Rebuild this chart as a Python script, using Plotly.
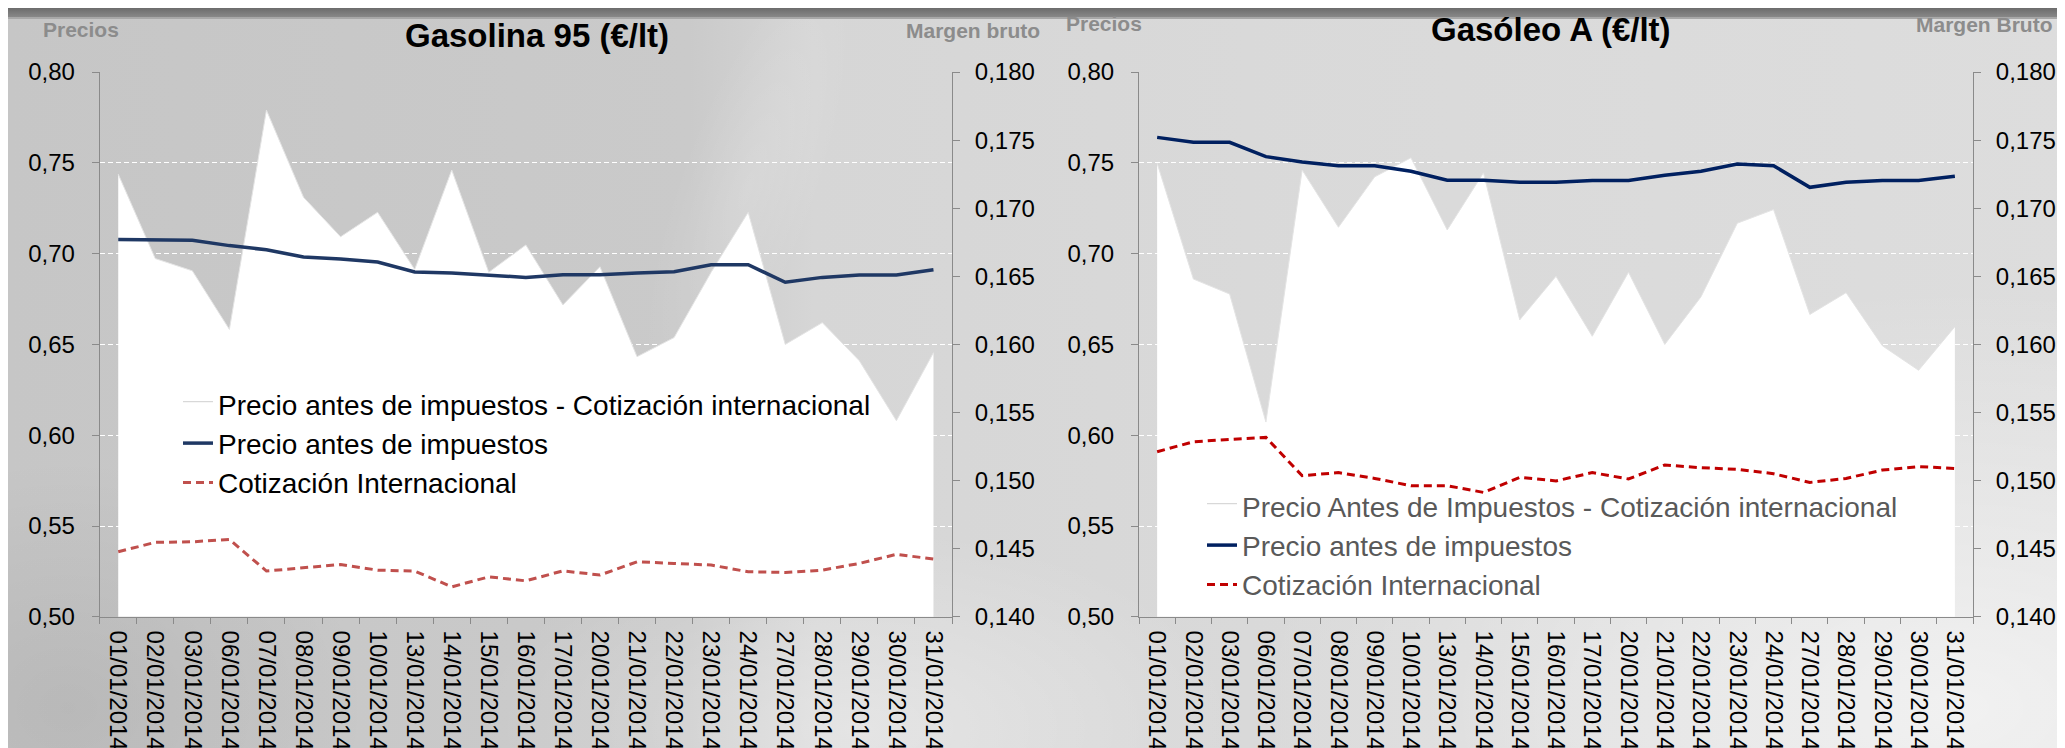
import base64
import plotly.graph_objects as go

# ---------------- data ----------------
fechas = ["01/01/2014", "02/01/2014", "03/01/2014", "06/01/2014", "07/01/2014",
          "08/01/2014", "09/01/2014", "10/01/2014", "13/01/2014", "14/01/2014",
          "15/01/2014", "16/01/2014", "17/01/2014", "20/01/2014", "21/01/2014",
          "22/01/2014", "23/01/2014", "24/01/2014", "27/01/2014", "28/01/2014",
          "29/01/2014", "30/01/2014", "31/01/2014"]

# Gasolina 95
g95_precio = [0.7077, 0.7073, 0.7073, 0.7044, 0.7021, 0.6981, 0.6970, 0.6954, 0.6899,
              0.6893, 0.6880, 0.6869, 0.6884, 0.6884, 0.6893, 0.6900, 0.6939, 0.6939,
              0.6842, 0.6869, 0.6882, 0.6882, 0.6911]
g95_cotiz = [0.5358, 0.5410, 0.5413, 0.5426, 0.5252, 0.5272, 0.5288, 0.5257, 0.5252,
             0.5165, 0.5220, 0.5198, 0.5253, 0.5230, 0.5303, 0.5294, 0.5285, 0.5248,
             0.5244, 0.5257, 0.5294, 0.5344, 0.5318]
g95_margen = [0.1725, 0.1663, 0.1654, 0.1611, 0.1772, 0.1708, 0.1679, 0.1697, 0.1655,
              0.1728, 0.1653, 0.1673, 0.1629, 0.1657, 0.1591, 0.1605, 0.1653, 0.1697,
              0.1600, 0.1616, 0.1588, 0.1544, 0.1594]

# Gasóleo A
gA_precio = [0.7640, 0.7613, 0.7613, 0.7534, 0.7504, 0.7484, 0.7484, 0.7453, 0.7404,
             0.7404, 0.7393, 0.7393, 0.7402, 0.7402, 0.7431, 0.7453, 0.7493, 0.7484,
             0.7365, 0.7393, 0.7402, 0.7402, 0.7426]
gA_cotiz = [0.5909, 0.5964, 0.5977, 0.5988, 0.5777, 0.5794, 0.5762, 0.5722, 0.5722,
            0.5685, 0.5768, 0.5748, 0.5794, 0.5759, 0.5836, 0.5821, 0.5812, 0.5788,
            0.5740, 0.5762, 0.5808, 0.5827, 0.5817]
gA_margen = [0.1733, 0.1648, 0.1637, 0.1543, 0.1728, 0.1686, 0.1723, 0.1737, 0.1684,
             0.1726, 0.1618, 0.1650, 0.1606, 0.1653, 0.1600, 0.1635, 0.1689, 0.1699,
             0.1622, 0.1638, 0.1599, 0.1581, 0.1613]

# ---------------- layout helpers ----------------
W, H = 2065, 748
FONT = "Liberation Sans, Arial, sans-serif"


def px(x):
    return x / W


def py(y):
    return 1 - y / H


# background gradient (SVG image)
svg = f'''<svg xmlns="http://www.w3.org/2000/svg" width="{W}" height="{H}" viewBox="0 0 {W} {H}" preserveAspectRatio="none">
<defs>
<linearGradient id="g" x1="0" y1="0" x2="1" y2="0">
<stop offset="0" stop-color="#c6c6c6"/>
<stop offset="0.33" stop-color="#cacaca"/>
<stop offset="0.39" stop-color="#d6d6d6"/>
<stop offset="0.6" stop-color="#d9d9d9"/>
<stop offset="1" stop-color="#dddddd"/>
</linearGradient>
<linearGradient id="t" x1="0" y1="0" x2="0" y2="1">
<stop offset="0" stop-color="#6c6c6c"/>
<stop offset="1" stop-color="#888888"/>
</linearGradient>
<radialGradient id="h" cx="0.5" cy="0.5" r="0.5">
<stop offset="0" stop-color="#ffffff" stop-opacity="0.6"/>
<stop offset="1" stop-color="#ffffff" stop-opacity="0"/>
</radialGradient>
<radialGradient id="h2" cx="0.5" cy="0.5" r="0.5">
<stop offset="0" stop-color="#ffffff" stop-opacity="0.35"/>
<stop offset="1" stop-color="#ffffff" stop-opacity="0"/>
</radialGradient>
<radialGradient id="h3" cx="0.5" cy="0.5" r="0.5">
<stop offset="0" stop-color="#ffffff" stop-opacity="0.15"/>
<stop offset="1" stop-color="#ffffff" stop-opacity="0"/>
</radialGradient>
<radialGradient id="d" cx="0.5" cy="0.5" r="0.5">
<stop offset="0" stop-color="#000000" stop-opacity="0.07"/>
<stop offset="1" stop-color="#000000" stop-opacity="0"/>
</radialGradient>
</defs>
<rect width="{W}" height="{H}" fill="url(#g)"/>
<ellipse cx="60" cy="700" rx="300" ry="250" fill="url(#d)"/>
<ellipse cx="1950" cy="700" rx="700" ry="420" fill="url(#h)"/>
<ellipse cx="850" cy="720" rx="380" ry="200" fill="url(#h2)"/>
<ellipse cx="740" cy="180" rx="70" ry="240" fill="url(#h3)" transform="rotate(20 740 180)"/>
<rect width="{W}" height="9" fill="url(#t)"/>
<rect y="9" width="{W}" height="2" fill="#a8a8a8"/>
</svg>'''
bg_src = "data:image/svg+xml;base64," + base64.b64encode(svg.encode("utf-8")).decode("ascii")

AXIS_COL = "#8a8a8a"
TOP, BOT = 64, 608.8

fig = go.Figure()


def add_panel(xa, ym, yp, precio, cotiz, margen, names, navy, red, legend):
    # margin area (white)
    fig.add_trace(go.Scatter(
        x=fechas, y=margen, xaxis=xa, yaxis=ym, mode="lines", fill="tozeroy",
        fillcolor="white", line=dict(color="#e4e4e4", width=1),
        name=names[0], showlegend=False, hoverinfo="skip"))
    # legend entry for the area (boxed white swatch)
    fig.add_trace(go.Scatter(
        x=[None], y=[None], xaxis=xa, yaxis=ym, mode="lines", fill="toself",
        fillcolor="white", line=dict(color="#cfcfcf", width=1),
        name=names[0], legend=legend, legendgroup=legend + "a"))
    fig.add_trace(go.Scatter(
        x=fechas, y=precio, xaxis=xa, yaxis=yp, mode="lines",
        line=dict(color=navy, width=3.5), name=names[1], legend=legend,
        legendgroup=legend + "b"))
    fig.add_trace(go.Scatter(
        x=fechas, y=cotiz, xaxis=xa, yaxis=yp, mode="lines",
        line=dict(color=red, width=3, dash="8px,5px"), name=names[2], legend=legend,
        legendgroup=legend + "c"))


add_panel("x", "y", "y2", g95_precio, g95_cotiz, g95_margen,
          ["Precio antes de impuestos - Cotización internacional",
           "Precio antes de impuestos", "Cotización Internacional"],
          "#1f3864", "#c0504d", "legend")
add_panel("x2", "y3", "y4", gA_precio, gA_cotiz, gA_margen,
          ["Precio Antes de Impuestos - Cotización internacional",
           "Precio antes de impuestos", "Cotización Internacional"],
          "#002060", "#c00000", "legend2")

xcommon = dict(type="category", tickson="boundaries", ticks="outside", ticklen=6,
               tickcolor=AXIS_COL, showline=True, linecolor=AXIS_COL, linewidth=1,
               tickangle=90, tickfont=dict(size=24, color="black", family=FONT),
               showgrid=False, zeroline=False, range=[-0.5, 22.5], automargin=False,
               ticklabelstandoff=8, fixedrange=True)
ymargin = dict(side="right", range=[0.14, 0.18], dtick=0.005, tick0=0.14,
               tickformat=".3f", showgrid=False, zeroline=False, showline=True,
               linecolor=AXIS_COL, ticks="outside", ticklen=7, tickcolor=AXIS_COL,
               tickfont=dict(size=24, color="black", family=FONT), automargin=False,
               ticklabelstandoff=10)
yprecio = dict(side="left", range=[0.5, 0.8], dtick=0.05, tick0=0.5,
               tickformat=".2f", showgrid=True, gridcolor="white", gridwidth=1,
               griddash="5px,3px", zeroline=False, showline=True, linecolor=AXIS_COL,
               ticks="outside", ticklen=7, tickcolor=AXIS_COL,
               tickfont=dict(size=24, color="black", family=FONT), automargin=False,
               ticklabelstandoff=12)

fig.update_layout(
    width=W, height=H,
    margin=dict(l=0, r=0, t=0, b=0, autoexpand=False),
    paper_bgcolor="#cfcfcf", plot_bgcolor="rgba(0,0,0,0)",
    separators=",.",
    showlegend=True,
    font=dict(family=FONT),
    xaxis=dict(domain=[px(91.7), px(944)], anchor="y", **xcommon),
    yaxis=dict(domain=[py(BOT), py(TOP)], anchor="x", **ymargin),
    yaxis2=dict(overlaying="y", anchor="x", **yprecio),
    xaxis2=dict(domain=[px(1131), px(1965)], anchor="y3", **xcommon),
    yaxis3=dict(domain=[py(BOT), py(TOP)], anchor="x2", **ymargin),
    yaxis4=dict(overlaying="y3", anchor="x2", **yprecio),
    legend=dict(x=px(170), y=py(371), xanchor="left", yanchor="top",
                bgcolor="rgba(0,0,0,0)", font=dict(size=28, color="black", family=FONT),
                traceorder="normal", tracegroupgap=2),
    legend2=dict(x=px(1194), y=py(473), xanchor="left", yanchor="top",
                 bgcolor="rgba(0,0,0,0)", font=dict(size=28, color="#595959", family=FONT),
                 traceorder="normal", tracegroupgap=0),
    images=[dict(source=bg_src, xref="paper", yref="paper", x=0, y=1, sizex=1, sizey=1,
                 xanchor="left", yanchor="top", sizing="stretch", layer="below")],
)

annots = [
    dict(text="Gasolina 95 (€/lt)", x=px(529), y=py(27), xanchor="center",
         font=dict(size=33, color="black", weight="bold")),
    dict(text="Gasóleo A (€/lt)", x=px(1543), y=py(21), xanchor="center",
         font=dict(size=33, color="black", weight="bold")),
    dict(text="Precios", x=px(33), y=py(21), xanchor="left",
         font=dict(size=21, color="#8c8c8c", weight="bold")),
    dict(text="Margen bruto", x=px(1034), y=py(22), xanchor="right",
         font=dict(size=21, color="#8c8c8c", weight="bold")),
    dict(text="Precios", x=px(1056), y=py(16), xanchor="left",
         font=dict(size=21, color="#8c8c8c", weight="bold")),
    dict(text="Margen Bruto", x=px(2047), y=py(17), xanchor="right",
         font=dict(size=21, color="#8c8c8c", weight="bold")),
]
for a in annots:
    a["font"]["family"] = FONT
    fig.add_annotation(xref="paper", yref="paper", yanchor="middle", showarrow=False, **a)

fig.write_html("out.html")
